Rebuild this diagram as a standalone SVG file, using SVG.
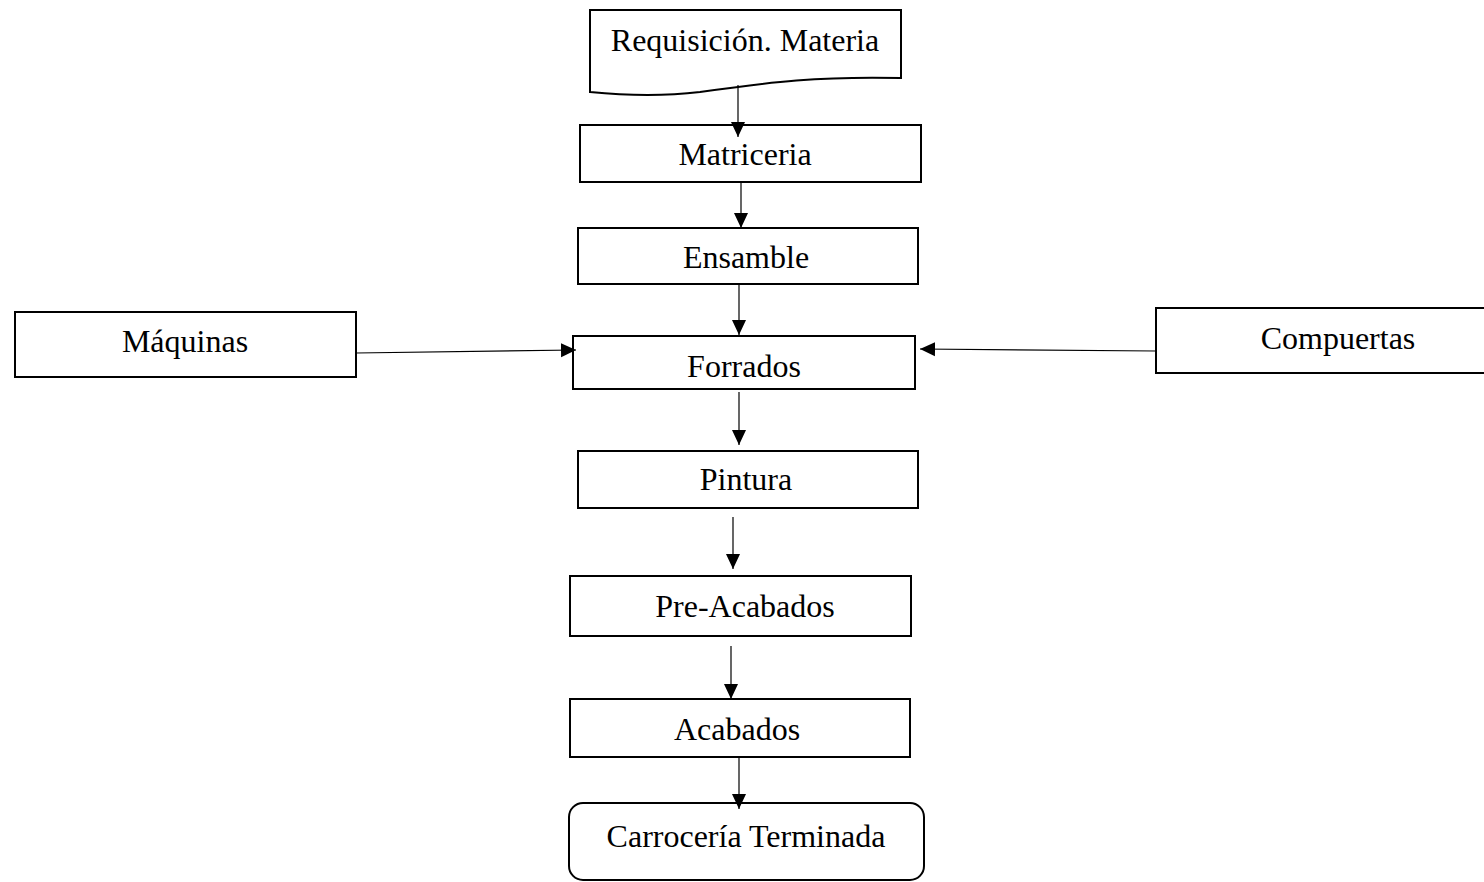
<svg xmlns="http://www.w3.org/2000/svg" width="1484" height="882" viewBox="0 0 1484 882">
<style>
.box{fill:#fff;stroke:#000;stroke-width:2}
.lbl{font-family:"Liberation Serif","Times New Roman",serif;font-size:32px;fill:#000;text-anchor:middle}
.con{stroke:#000;stroke-width:1.2;fill:none;marker-end:url(#ah)}
</style>
<defs>
<marker id="ah" markerUnits="userSpaceOnUse" markerWidth="16" markerHeight="16" viewBox="0 0 16 16" refX="15" refY="8" orient="auto">
<path d="M0,1 L15,8 L0,15 Z" fill="#000"/>
</marker>
</defs>
<rect width="1484" height="882" fill="#fff"/>
<g id="req">
<path class="box" d="M590,10 H901 V78 C820,76 770,82 700,92 C650,98 610,94 590,92 Z"/>
<text class="lbl" x="745" y="51">Requisición. Materia</text>
</g>
<g id="matriceria">
<rect class="box" x="580" y="125" width="341" height="57"/>
<text class="lbl" x="745" y="165">Matriceria</text>
</g>
<g id="ensamble">
<rect class="box" x="578" y="228" width="340" height="56"/>
<text class="lbl" x="746" y="268">Ensamble</text>
</g>
<g id="maquinas">
<rect class="box" x="15" y="312" width="341" height="65"/>
<text class="lbl" x="185" y="352">Máquinas</text>
</g>
<g id="forrados">
<rect class="box" x="573" y="336" width="342" height="53"/>
<text class="lbl" x="744" y="377">Forrados</text>
</g>
<g id="compuertas">
<rect class="box" x="1156" y="308" width="330" height="65"/>
<text class="lbl" x="1338" y="349">Compuertas</text>
</g>
<g id="pintura">
<rect class="box" x="578" y="451" width="340" height="57"/>
<text class="lbl" x="746" y="490">Pintura</text>
</g>
<g id="preacabados">
<rect class="box" x="570" y="576" width="341" height="60"/>
<text class="lbl" x="745" y="617">Pre-Acabados</text>
</g>
<g id="acabados">
<rect class="box" x="570" y="699" width="340" height="58"/>
<text class="lbl" x="737" y="740">Acabados</text>
</g>
<g id="terminada">
<rect class="box" x="569" y="803" width="355" height="77" rx="14" ry="14"/>
<text class="lbl" x="746" y="847">Carrocería Terminada</text>
</g>
<g id="connectors">
<line class="con" x1="738" y1="85" x2="738" y2="137"/>
<line class="con" x1="741" y1="182" x2="741" y2="228"/>
<line class="con" x1="739" y1="284" x2="739" y2="335"/>
<line class="con" x1="356" y1="353" x2="576" y2="350"/>
<line class="con" x1="1156" y1="351" x2="920" y2="349"/>
<line class="con" x1="739" y1="392" x2="739" y2="445"/>
<line class="con" x1="733" y1="517" x2="733" y2="569"/>
<line class="con" x1="731" y1="646" x2="731" y2="699"/>
<line class="con" x1="739" y1="757" x2="739" y2="809"/>
</g>
</svg>
